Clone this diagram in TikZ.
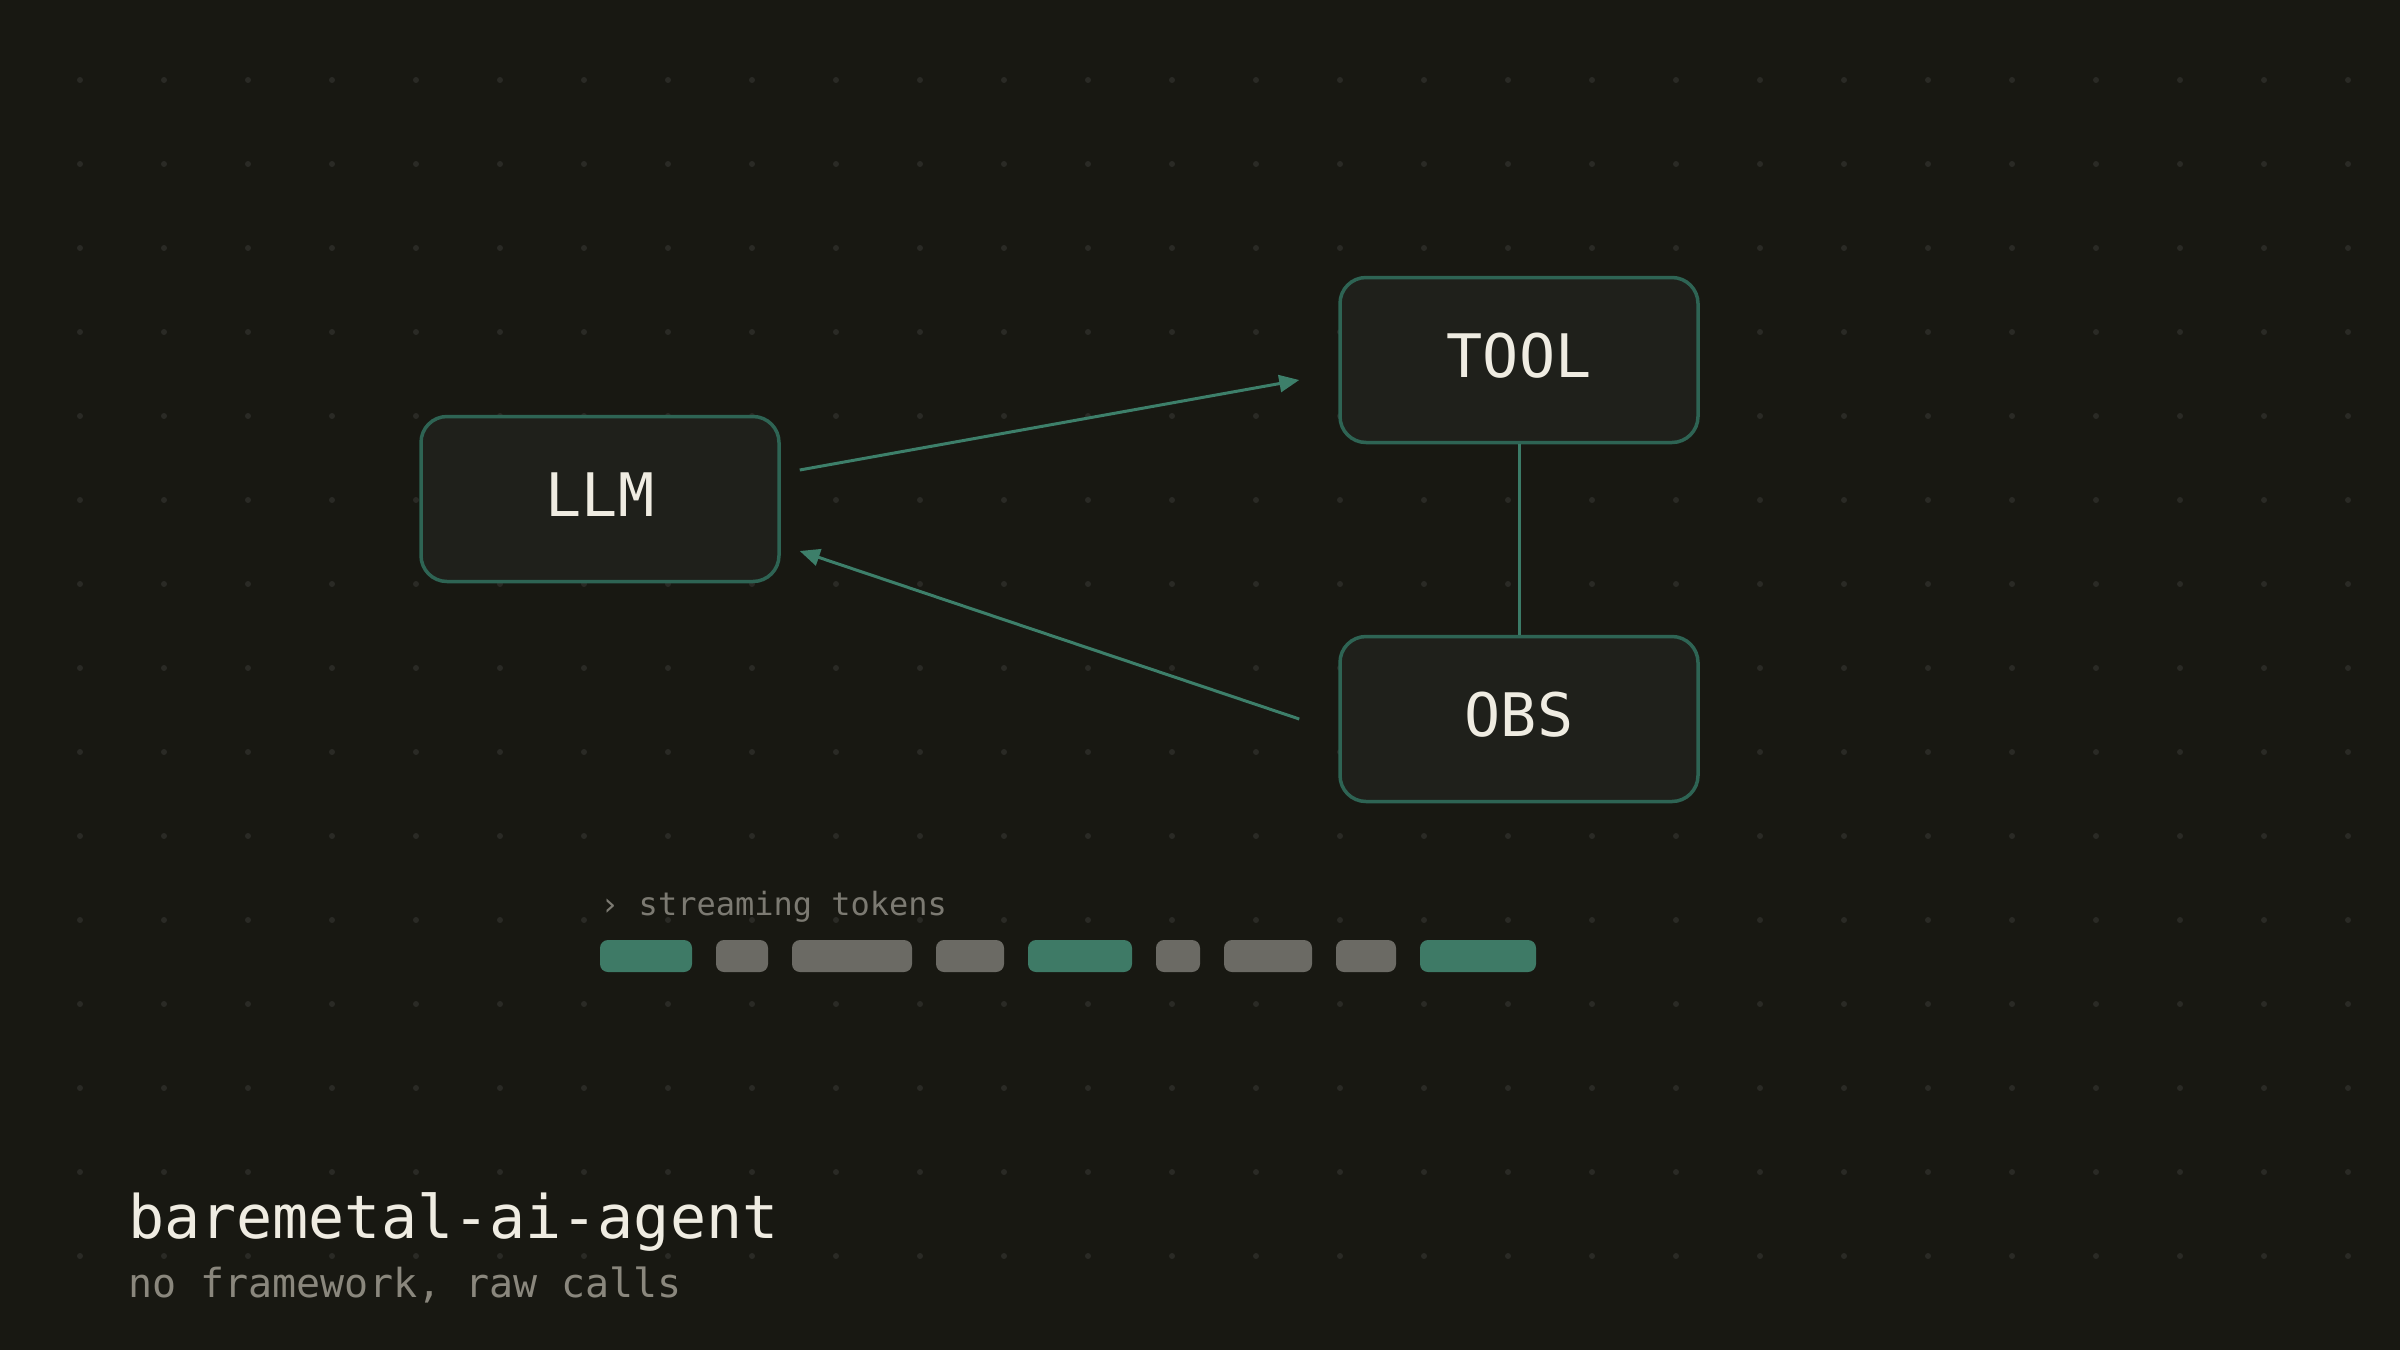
\documentclass[tikz,border=0pt]{standalone}
\usepackage{fontspec}
\setmonofont{DejaVu Sans Mono}
\usetikzlibrary{arrows.meta,calc}
\definecolor{bgc}{HTML}{181812}
\definecolor{dotc}{HTML}{2A2A25}
\definecolor{boxfill}{HTML}{1F201B}
\definecolor{boxedge}{HTML}{2E6454}
\definecolor{flowc}{HTML}{3D7F6A}
\definecolor{tokgreen}{HTML}{3E7A66}
\definecolor{tokgray}{HTML}{6B6A64}
\definecolor{ink}{HTML}{EFECE2}
\definecolor{mutedc}{HTML}{7C7A72}
\definecolor{subc}{HTML}{8A877D}
\tikzset{
  agent/.style={draw=boxedge,fill=boxfill,line width=3.5pt,rounded corners=26pt,
    minimum width=358pt,minimum height=165pt,text=ink,text depth=9pt,
    font=\ttfamily\fontsize{60}{72}\selectfont},
  flow/.style={draw=flowc,line width=3pt,-{Triangle[length=20pt,width=17pt]}},
  caption/.style={anchor=base west,inner sep=0pt}
}
\begin{document}
\begin{tikzpicture}[x=1pt,y=-1pt]
  \fill[bgc] (0,0) rectangle (2400,1350);
  \foreach \gx in {80,164,...,2348} {
    \foreach \gy in {80,164,...,1256} {
      \fill[dotc] (\gx,\gy) circle (3pt);
    }
  }
  \node[agent] (llm) at (600,499) {LLM};
  \node[agent] (tool) at (1519,360) {TOOL};
  \node[agent] (obs) at (1519,719) {OBS};
  \draw[flow] ($(llm.east)+(19,-29)$) -- ($(tool.west)+(-39,20)$);
  \draw[flow] ($(obs.west)+(-39,0)$) -- ($(llm.east)+(19,52)$);
  \draw[draw=flowc!85!boxedge,line width=3pt] (tool) -- (obs);
  \node[caption,text=mutedc,font=\ttfamily\fontsize{32}{38}\selectfont] (stream) at (600,915) {› streaming tokens};
  \foreach \a/\b/\c in {600/692/tokgreen,716/768/tokgray,792/912/tokgray,
    936/1004/tokgray,1028/1132/tokgreen,1156/1200/tokgray,1224/1312/tokgray,
    1336/1396/tokgray,1420/1536/tokgreen} {
    \fill[\c,rounded corners=8pt] (\a,940) rectangle (\b,972);
  }
  \node[caption,text=ink,font=\ttfamily\fontsize{60}{72}\selectfont] (title) at (128,1238) {baremetal-ai-agent};
  \node[caption,text=subc,font=\ttfamily\fontsize{40}{48}\selectfont] (sub) at (128,1297) {no framework, raw calls};
\end{tikzpicture}
\end{document}
